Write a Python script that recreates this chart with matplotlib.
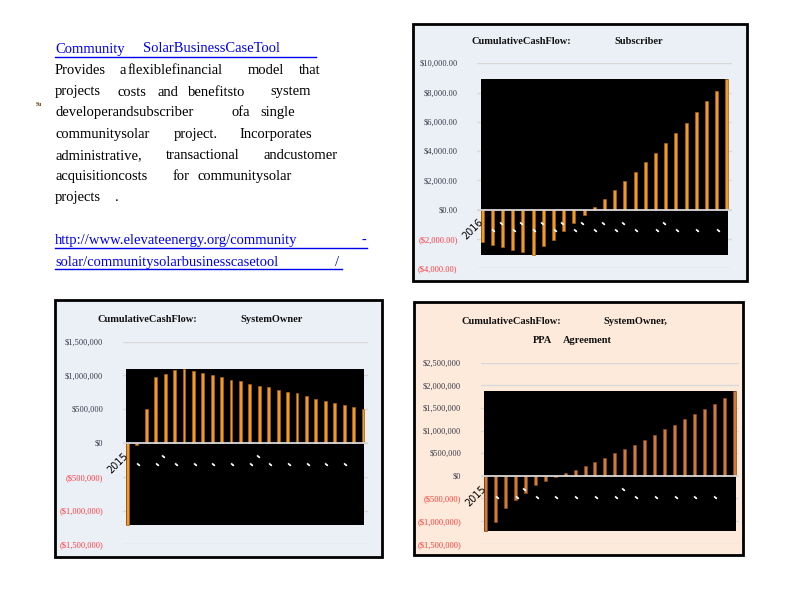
import numpy as np
import matplotlib
matplotlib.use("Agg")
import matplotlib.pyplot as plt
from matplotlib.patches import Rectangle
from matplotlib.lines import Line2D

plt.rcParams['font.family'] = ['Liberation Serif', 'DejaVu Sans']

# cumulative cash flow values
sub_start = 2016
sub_values = [-2200, -2390, -2570, -2750, -2890, -3070, -2500, -2045, -1480, -910, -340,
              180, 750, 1360, 1980, 2590, 3270, 3890, 4570, 5250, 5930, 6680, 7410, 8110, 8930]

owner_start = 2015
owner_values = [-1220000, -25000, 510000, 970000, 1020000, 1075000, 1095000, 1060000, 1030000,
                1000000, 970000, 940000, 911000, 881000, 851000, 822000, 792000, 762000, 733000,
                693000, 658000, 629000, 599000, 569000, 540000, 510000]

ppa_start = 2015
ppa_values = [-1224000, -1016000, -720000, -534000, -371000, -208000, -104000, -20000, 59000,
              134000, 223000, 312000, 400000, 512000, 601000, 690000, 801000, 913000, 1024000,
              1113000, 1246000, 1358000, 1469000, 1595000, 1729000, 1870000]

# garbled white label marks under the zero line
low_marks = list(range(1, 24, 2))
sub_high_marks = [2, 4, 6, 8, 10, 12, 14, 18]
owner_high_marks = [4, 14]
ppa_high_marks = [4, 14]

W, H = 800, 600
fig = plt.figure(figsize=(8, 6), dpi=100)
fig.patch.set_facecolor('white')


def fx(x):
    return x / W


def fy(y):
    return 1 - y / H


def panel(x0, y0, x1, y1, fc):
    fig.add_artist(Rectangle((fx(x0), fy(y1)), (x1 - x0) / W, (y1 - y0) / H,
                             transform=fig.transFigure, facecolor=fc, edgecolor='black',
                             lw=2, zorder=-5))


def money(v, dec):
    s = f"${abs(v):,.{dec}f}"
    return f"({s})" if v < 0 else s


def draw(rect, vals, ylim, step, dec, color, edge, first, high_marks):
    x0, y0, x1, y1 = rect
    ax = fig.add_axes([fx(x0), fy(y1), (x1 - x0) / W, (y1 - y0) / H])
    ax.patch.set_alpha(0)
    n = len(vals)
    x = np.arange(n)
    w = 0.3
    ax.set_xlim(-0.5, n - 0.5)
    ax.set_ylim(ylim)
    ticks = np.arange(ylim[0], ylim[1] + step, step)
    ax.set_yticks(ticks)
    ax.set_yticklabels([money(t, dec) for t in ticks], fontsize=6)
    for t, lab in zip(ticks, ax.get_yticklabels()):
        lab.set_color('#FF3B3B' if t < 0 else '#3A3A4A')
    ax.set_xticks([])
    ax.tick_params(length=0, pad=14)
    ax.yaxis.grid(True, color='#D9D9D9', lw=1)
    ax.set_axisbelow(True)
    for s in ax.spines.values():
        s.set_visible(False)
    ax.add_patch(Rectangle((-w / 2, min(vals)), n - 1 + w, max(vals) - min(vals),
                           facecolor='black', zorder=1))
    ax.bar(x, vals, w, color=color, edgecolor=edge, lw=0.5, zorder=2)
    ax.axhline(0, color='#D9D9D9', lw=1.3, zorder=3)
    for i in low_marks:
        ax.annotate('▬', xy=(i, 0), xytext=(1, -14.5), textcoords='offset points',
                    color='white', rotation=-40, fontsize=3.5, ha='center', va='center',
                    family='DejaVu Sans', zorder=4)
    for i in high_marks:
        ax.annotate('▬', xy=(i, 0), xytext=(-1, -9), textcoords='offset points',
                    color='white', rotation=-40, fontsize=3.5, ha='center', va='center',
                    family='DejaVu Sans', zorder=4)
    ax.annotate(str(first), xy=(0, 0), xytext=(2, -5.5), textcoords='offset points',
                rotation=45, ha='right', va='top', fontsize=7, family='DejaVu Sans',
                color='black', zorder=4, annotation_clip=False)
    return ax


# panels
panel(413, 24, 747, 281, '#EBF0F7')
panel(55, 300, 382, 557, '#EBF0F7')
panel(414, 302, 743, 555, '#FDEADB')

draw((477, 63.3, 732, 268.3), sub_values, (-4000, 10000), 2000, 2,
     '#EE9A2C', '#A8600F', sub_start, sub_high_marks)
draw((122.7, 341.7, 367.7, 544.3), owner_values, (-1500000, 1500000), 500000, 0,
     '#EE9A2C', '#A8600F', owner_start, owner_high_marks)
draw((480.7, 362.7, 739, 543.7), ppa_values, (-1500000, 2500000), 500000, 0,
     '#CF7B3C', '#8A4A1A', ppa_start, ppa_high_marks)

# chart titles
tkw = dict(fontsize=7.5, fontweight='bold', va='center', ha='left', color='#111111')
fig.text(fx(471), fy(41.7), 'CumulativeCashFlow:', **tkw)
fig.text(fx(614), fy(41.7), 'Subscriber', **tkw)
fig.text(fx(97.7), fy(319.3), 'CumulativeCashFlow:', **tkw)
fig.text(fx(240), fy(319.3), 'SystemOwner', **tkw)
fig.text(fx(461.7), fy(321.7), 'CumulativeCashFlow:', **tkw)
fig.text(fx(603), fy(321.7), 'SystemOwner,', **tkw)
fig.text(fx(532.7), fy(340.7), 'PPA', **tkw)
fig.text(fx(563.3), fy(340.7), 'Agreement', **tkw)

# left text block
heading = [('Community', 55), ('SolarBusinessCaseTool', 142.7)]
body = [
    (70.7, [('Provides', 55), ('a', 120), ('flexiblefinancial', 128), ('model', 248), ('that', 299)]),
    (92, [('projects', 55), ('costs', 117), ('and', 157), ('benefitsto', 188), ('system', 270)]),
    (112.7, [('developerandsubscriber', 55), ('ofa', 232), ('single', 260)]),
    (134, [('communitysolar', 55), ('project.', 174), ('Incorporates', 239)]),
    (155.3, [('administrative,', 55), ('transactional', 166), ('andcustomer', 264)]),
    (176.7, [('acquisitioncosts', 55), ('for', 173), ('communitysolar', 198)]),
    (197.7, [('projects', 55), ('.', 115)]),
]
links = [
    (240.7, 248.3, 366.7, [('http://www.elevateenergy.org/community', 55), ('-', 361)]),
    (262.3, 269.3, 341.7, [('solar/communitysolarbusinesscasetool', 55), ('/', 335)]),
]

bkw = dict(fontsize=10.5, va='center', ha='left')
for word, x in heading:
    fig.text(fx(x), fy(49), word, color='#0000EE', **bkw)
fig.add_artist(Line2D([fx(55), fx(316)], [fy(57.3), fy(57.3)], color='#0000EE', lw=1))
for y, words in body:
    for word, x in words:
        fig.text(fx(x), fy(y), word, color='black', **bkw)
for y, uy, ux, words in links:
    for word, x in words:
        fig.text(fx(x), fy(y), word, color='#0000EE', **bkw)
    fig.add_artist(Line2D([fx(55), fx(ux)], [fy(uy), fy(uy)], color='#0000EE', lw=1))

fig.text(fx(36), fy(105), 'Su', fontsize=4, fontweight='bold', color='#5A3A00', va='center')

fig.savefig('out.png', dpi=100)
